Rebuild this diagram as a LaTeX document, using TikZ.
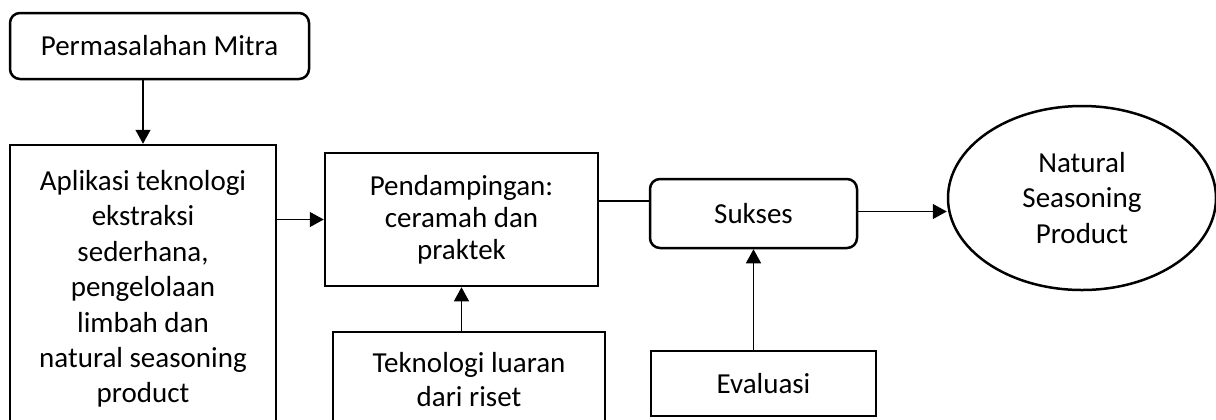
\documentclass[tikz,border=0pt]{standalone}
\usepackage{fontspec}
\setmainfont{Carlito}
\usetikzlibrary{shapes.geometric, arrows.meta}

\begin{document}
\begin{tikzpicture}[x=0.5pt, y=-0.5pt,
  box/.style={rectangle, draw, line width=1.25pt, align=center, inner sep=0pt,
    font=\fontsize{14.5}{17.7}\selectfont},
  link/.style={line width=0.65pt},
  arr/.style={link, -{Triangle[length=7pt, width=7.5pt]}}]

\useasboundingbox (0,0) rectangle (1216,419);

\node (perm) [box, rounded corners=5pt, minimum width=149.5pt, minimum height=33pt] at (159.5,46)
{Permasalahan Mitra};

\node (apl) [box, minimum width=133pt, minimum height=144pt] at (143,289)
{Aplikasi teknologi\\ ekstraksi\\ sederhana,\\ pengelolaan\\ limbah dan\\ natural seasoning\\ product};

\node (pend) [box, minimum width=136.5pt, minimum height=66.5pt,
  font=\fontsize{14.5}{15.9}\selectfont] at (461.5,219.5)
{Pendampingan:\\ ceramah dan\\ praktek};

\node (tek) [box, minimum width=136pt, minimum height=48pt,
  font=\fontsize{14.5}{17}\selectfont] at (469,380)
{Teknologi luaran\\ dari riset};

\node (suk) [box, rounded corners=5pt, minimum width=103.5pt, minimum height=34.5pt] at (753.5,213.5)
{Sukses};

\node (eva) [box, minimum width=112.5pt, minimum height=32.5pt] at (763.5,383.5)
{Evaluasi};

\node (nat) [box, ellipse, minimum width=134pt, minimum height=92pt] at (1082,198)
{Natural\\ Seasoning\\ Product};

\draw[arr] (perm.south -| apl.north) -- (apl.north);
\draw[arr] (apl.east |- pend.west) -- (pend.west);
\draw[arr] (tek.north -| pend.south) -- (pend.south);
\draw[link] ([yshift=9.25pt]pend.east) -- ([yshift=6.25pt]suk.west);
\draw[arr] ([yshift=1pt]suk.east) -- ([yshift=1pt]suk.east -| nat.west);
\draw[arr] (eva.north -| suk.south) -- (suk.south);

\end{tikzpicture}
\end{document}
